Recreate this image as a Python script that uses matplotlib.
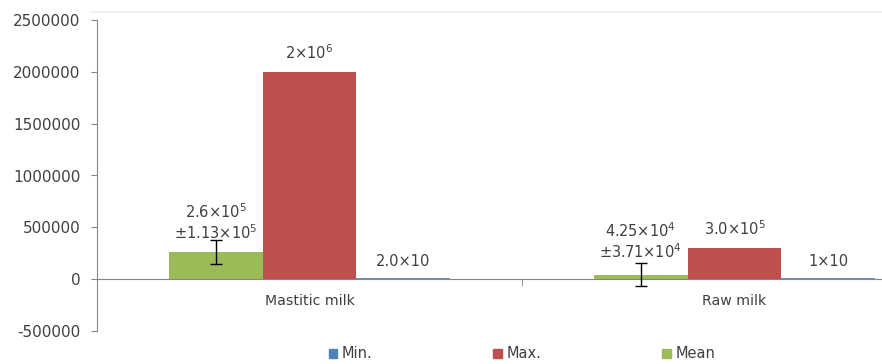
import matplotlib
matplotlib.use("Agg")
import matplotlib.pyplot as plt
from matplotlib.patches import Patch
from matplotlib.lines import Line2D
import numpy as np

plt.rcParams['font.family'] = ['DejaVu Sans']
plt.rcParams['mathtext.fontset'] = 'dejavusans'
plt.rcParams['mathtext.default'] = 'regular'

categories = ["Mastitic milk", "Raw milk"]
mean_vals = [260000, 42500]
max_vals = [2000000, 300000]
min_vals = [20, 10]
mean_err = [113000, 113000]
mean_labels = ["2.6×10$^{5}$\n±1.13×10$^{5}$", "4.25×10$^{4}$\n±3.71×10$^{4}$"]
max_labels = ["2×10$^{6}$", "3.0×10$^{5}$"]
min_labels = ["2.0×10", "1×10"]
yticks = [-500000, 0, 500000, 1000000, 1500000, 2000000, 2500000]

c_min = "#4F81BD"
c_max = "#C0504D"
c_mean = "#9BBB59"
tc = "#404040"

fig = plt.figure(figsize=(8.82, 3.64), dpi=100)
ax = fig.add_axes([97/882, 1-331/364, 1-97/882, (331-20)/364])

# faint chart-area border line at the top
fig.add_artist(Line2D([90/882, 1], [1-12/364, 1-12/364], color='#eeeeee', lw=1.2))

x = np.arange(len(categories))
w = 0.221
ax.bar(x - w, mean_vals, w, color=c_mean, zorder=2)
ax.bar(x, max_vals, w, color=c_max, zorder=2)
ax.bar(x + w, min_vals, w, color=c_min, zorder=2, edgecolor=c_min, linewidth=1.2)
ax.errorbar(x - w, mean_vals, yerr=mean_err, fmt='none', ecolor='black',
            elinewidth=1.0, capsize=4, capthick=1.0, zorder=3)

fs = 10.5
mean_off = [288000, 323000]
for i in range(len(categories)):
    ax.text(x[i] - w, mean_vals[i] + mean_off[i], mean_labels[i],
            ha='center', va='center', fontsize=fs, color=tc, linespacing=1.15)
    ax.text(x[i], max_vals[i] + 95000, max_labels[i], ha='center', va='bottom',
            fontsize=fs, color=tc)
    ax.text(x[i] + w, 170000, min_labels[i], ha='center', va='center',
            fontsize=fs, color=tc)

ax.set_xlim(-0.5, -0.5 + (882-97)/425)
ax.set_ylim(-500000, 2500000)
ax.set_yticks(yticks)
ax.set_yticklabels([str(v) for v in yticks], fontsize=11, color=tc)

ax.spines['top'].set_visible(False)
ax.spines['right'].set_visible(False)
ax.spines['left'].set_color('#868686')
ax.spines['bottom'].set_position(('data', 0))
ax.spines['bottom'].set_color('#868686')
ax.tick_params(axis='y', direction='out', length=4, color='#868686', pad=8)

ax.set_xticks(x)
ax.set_xticklabels(categories, fontsize=10.2, color=tc)
ax.tick_params(axis='x', which='major', length=0, pad=11)
ax.set_xticks([0.5], minor=True)
ax.tick_params(axis='x', which='minor', length=5, color='#868686', direction='out')

handles = [Patch(color=c_min, label='Min.'), Patch(color=c_max, label='Max.'),
           Patch(color=c_mean, label='Mean')]
fig.legend(handles=handles, loc='center', bbox_to_anchor=(522/882, 1-354/364),
           ncol=3, frameon=False, fontsize=10.5, handlelength=0.6, handleheight=0.6,
           columnspacing=8.3, handletextpad=0.3, labelcolor=tc)

fig.savefig("out.png", dpi=100)
